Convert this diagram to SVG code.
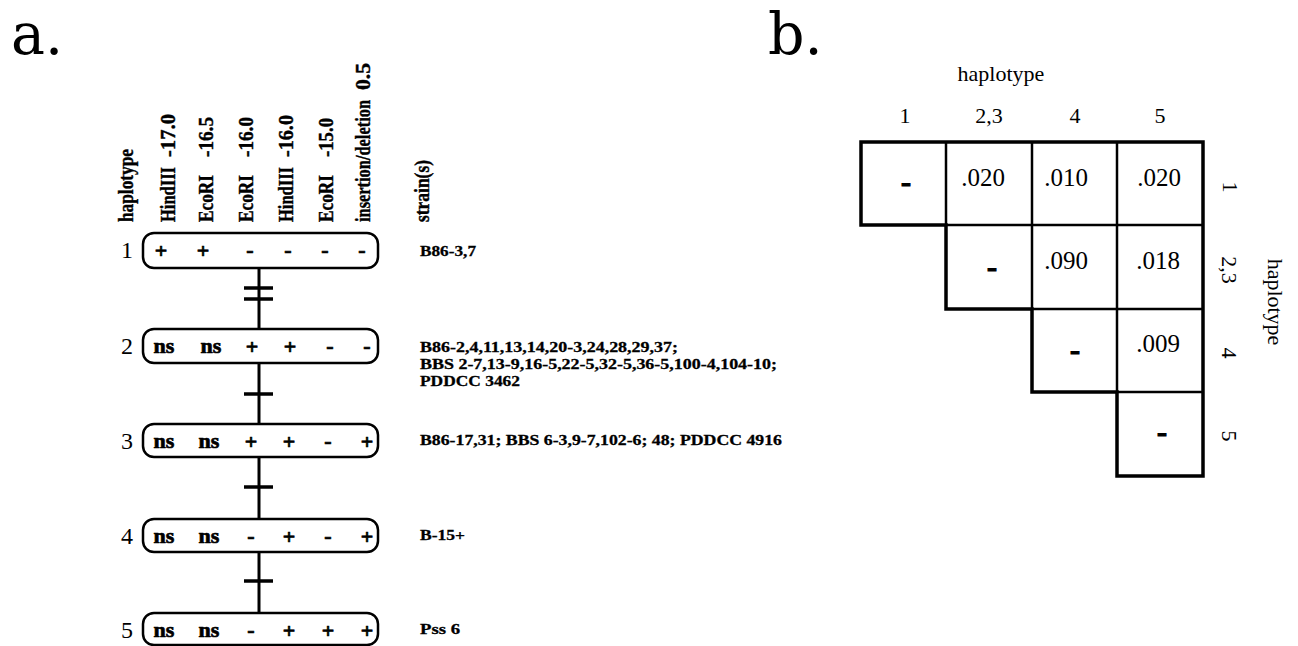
<svg xmlns="http://www.w3.org/2000/svg" width="1298" height="646" viewBox="0 0 1298 646">
<style>
  .panel { font-family: "DejaVu Serif", "Liberation Serif", serif; font-size: 57px; fill: #000; }
  .hdr { font-family: "Liberation Serif", serif; font-weight: bold; font-size: 20px; fill: #000; stroke: #000; stroke-width: 0.4; }
  .rowlab { font-family: "Liberation Serif", serif; font-size: 24px; fill: #000; }
  .cell { font-family: "Liberation Serif", serif; font-weight: bold; font-size: 22px; fill: #000; stroke: #000; stroke-width: 0.7; text-anchor: middle; }
  .strain { font-family: "Liberation Serif", serif; font-weight: bold; font-size: 15.5px; fill: #000; stroke: #000; stroke-width: 0.3; }
  .box { fill: #fff; stroke: #000; stroke-width: 2.5; }
  .conn { stroke: #000; stroke-width: 3; fill: none; }
  .tick { stroke: #000; stroke-width: 3.5; fill: none; }
  .tb { font-family: "Liberation Serif", serif; font-size: 22px; fill: #000; text-anchor: middle; }
  .val { font-family: "Liberation Serif", serif; font-size: 25px; fill: #000; text-anchor: middle; }
  .dash { font-family: "Liberation Serif", serif; font-weight: bold; font-size: 30px; fill: #000; stroke: #000; stroke-width: 1.2; text-anchor: middle; }
  .outer { fill: #fff; stroke: #000; stroke-width: 3.5; stroke-linejoin: miter; }
  .inner { stroke: #000; stroke-width: 2.5; fill: none; }
</style>
<rect width="1298" height="646" fill="#fff"/>

<text class="panel" x="11" y="54">a.</text>
<text class="panel" x="768" y="54">b.</text>

<g id="col-headers">
  <text class="hdr" transform="translate(133,222) rotate(-90)" textLength="73" lengthAdjust="spacingAndGlyphs">haplotype</text>
  <text class="hdr" transform="translate(175,222) rotate(-90)" textLength="55" lengthAdjust="spacingAndGlyphs">HindIII</text>
  <text class="hdr" transform="translate(175,157) rotate(-90)" textLength="43" lengthAdjust="spacingAndGlyphs">-17.0</text>
  <text class="hdr" transform="translate(213,222) rotate(-90)" textLength="47" lengthAdjust="spacingAndGlyphs">EcoRI</text>
  <text class="hdr" transform="translate(213,157) rotate(-90)" textLength="40" lengthAdjust="spacingAndGlyphs">-16.5</text>
  <text class="hdr" transform="translate(253,222) rotate(-90)" textLength="47" lengthAdjust="spacingAndGlyphs">EcoRI</text>
  <text class="hdr" transform="translate(253,157) rotate(-90)" textLength="40" lengthAdjust="spacingAndGlyphs">-16.0</text>
  <text class="hdr" transform="translate(293,222) rotate(-90)" textLength="55" lengthAdjust="spacingAndGlyphs">HindIII</text>
  <text class="hdr" transform="translate(293,157) rotate(-90)" textLength="42" lengthAdjust="spacingAndGlyphs">-16.0</text>
  <text class="hdr" transform="translate(333,222) rotate(-90)" textLength="47" lengthAdjust="spacingAndGlyphs">EcoRI</text>
  <text class="hdr" transform="translate(333,157) rotate(-90)" textLength="39" lengthAdjust="spacingAndGlyphs">-15.0</text>
  <text class="hdr" transform="translate(370,222) rotate(-90)" textLength="122" lengthAdjust="spacingAndGlyphs">insertion/deletion</text>
  <text class="hdr" transform="translate(370,90) rotate(-90)" textLength="27" lengthAdjust="spacingAndGlyphs">0.5</text>
  <text class="hdr" transform="translate(429,222) rotate(-90)" textLength="62" lengthAdjust="spacingAndGlyphs">strain(s)</text>
</g>

<g id="connectors">
  <line class="conn" x1="259" y1="268" x2="259" y2="329"/>
  <line class="tick" x1="244" y1="288" x2="273" y2="288"/>
  <line class="tick" x1="244" y1="299" x2="273" y2="299"/>
  <line class="conn" x1="259" y1="363" x2="259" y2="424"/>
  <line class="tick" x1="244" y1="394" x2="273" y2="394"/>
  <line class="conn" x1="259" y1="457" x2="259" y2="519"/>
  <line class="tick" x1="244" y1="487" x2="273" y2="487"/>
  <line class="conn" x1="259" y1="552" x2="259" y2="613"/>
  <line class="tick" x1="244" y1="581" x2="273" y2="581"/>
</g>

<g id="hap1">
  <rect class="box" x="143" y="233" width="235" height="35" rx="11"/>
  <text class="rowlab" x="133" y="258" text-anchor="end">1</text>
  <text class="cell" x="161" y="258">+</text>
  <text class="cell" x="203" y="258">+</text>
  <text class="cell" x="250" y="257">-</text>
  <text class="cell" x="288" y="257">-</text>
  <text class="cell" x="325" y="257">-</text>
  <text class="cell" x="362" y="257">-</text>
  <text class="strain" x="420" y="256" textLength="56" lengthAdjust="spacingAndGlyphs">B86-3,7</text>
</g>

<g id="hap2">
  <rect class="box" x="143" y="329" width="235" height="34" rx="11"/>
  <text class="rowlab" x="133" y="354" text-anchor="end">2</text>
  <text class="cell" x="164" y="353">ns</text>
  <text class="cell" x="211" y="353">ns</text>
  <text class="cell" x="252" y="354">+</text>
  <text class="cell" x="290" y="354">+</text>
  <text class="cell" x="330" y="353">-</text>
  <text class="cell" x="367" y="353">-</text>
  <text class="strain" x="420" y="352" textLength="258" lengthAdjust="spacingAndGlyphs">B86-2,4,11,13,14,20-3,24,28,29,37;</text>
  <text class="strain" x="420" y="369" textLength="357" lengthAdjust="spacingAndGlyphs">BBS 2-7,13-9,16-5,22-5,32-5,36-5,100-4,104-10;</text>
  <text class="strain" x="420" y="386" textLength="100" lengthAdjust="spacingAndGlyphs">PDDCC 3462</text>
</g>

<g id="hap3">
  <rect class="box" x="143" y="424" width="235" height="33" rx="11"/>
  <text class="rowlab" x="133" y="449" text-anchor="end">3</text>
  <text class="cell" x="164" y="448">ns</text>
  <text class="cell" x="209" y="448">ns</text>
  <text class="cell" x="251" y="449">+</text>
  <text class="cell" x="289" y="449">+</text>
  <text class="cell" x="328" y="448">-</text>
  <text class="cell" x="367" y="449">+</text>
  <text class="strain" x="420" y="445" textLength="362" lengthAdjust="spacingAndGlyphs">B86-17,31; BBS 6-3,9-7,102-6; 48; PDDCC 4916</text>
</g>

<g id="hap4">
  <rect class="box" x="143" y="519" width="235" height="33" rx="11"/>
  <text class="rowlab" x="133" y="544" text-anchor="end">4</text>
  <text class="cell" x="164" y="543">ns</text>
  <text class="cell" x="209" y="543">ns</text>
  <text class="cell" x="251" y="543">-</text>
  <text class="cell" x="289" y="544">+</text>
  <text class="cell" x="328" y="543">-</text>
  <text class="cell" x="367" y="544">+</text>
  <text class="strain" x="420" y="540" textLength="45" lengthAdjust="spacingAndGlyphs">B-15+</text>
</g>

<g id="hap5">
  <rect class="box" x="143" y="613" width="235" height="32" rx="11"/>
  <text class="rowlab" x="133" y="638" text-anchor="end">5</text>
  <text class="cell" x="164" y="637">ns</text>
  <text class="cell" x="209" y="637">ns</text>
  <text class="cell" x="251" y="637">-</text>
  <text class="cell" x="289" y="638">+</text>
  <text class="cell" x="328" y="638">+</text>
  <text class="cell" x="367" y="638">+</text>
  <text class="strain" x="420" y="634" textLength="40" lengthAdjust="spacingAndGlyphs">Pss 6</text>
</g>

<g id="table-b">
  <text class="tb" x="1001" y="81" font-size="20">haplotype</text>
  <text class="tb" x="905" y="123">1</text>
  <text class="tb" x="989" y="123">2,3</text>
  <text class="tb" x="1075" y="123">4</text>
  <text class="tb" x="1160" y="123">5</text>

  <path class="outer" d="M861,142 H1203 V476 H1117 V392 H1032 V309 H946 V225 H861 Z"/>
  <line class="inner" x1="946" y1="142" x2="946" y2="225"/>
  <line class="inner" x1="1032" y1="142" x2="1032" y2="309"/>
  <line class="inner" x1="1117" y1="142" x2="1117" y2="392"/>
  <line class="inner" x1="946" y1="225" x2="1203" y2="225"/>
  <line class="inner" x1="1032" y1="309" x2="1203" y2="309"/>
  <line class="inner" x1="1117" y1="392" x2="1203" y2="392"/>

  <text class="dash" x="906" y="192">-</text>
  <text class="val" x="983" y="186">.020</text>
  <text class="val" x="1066" y="186">.010</text>
  <text class="val" x="1159" y="186">.020</text>
  <text class="dash" x="992" y="277">-</text>
  <text class="val" x="1066" y="269">.090</text>
  <text class="val" x="1158" y="269">.018</text>
  <text class="dash" x="1075" y="360">-</text>
  <text class="val" x="1158" y="352">.009</text>
  <text class="dash" x="1162" y="442">-</text>

  <text class="tb" transform="translate(1223,187) rotate(90)">1</text>
  <text class="tb" transform="translate(1222,270) rotate(90)">2,3</text>
  <text class="tb" transform="translate(1222,353) rotate(90)">4</text>
  <text class="tb" transform="translate(1222,436) rotate(90)">5</text>
  <text class="tb" transform="translate(1268,302) rotate(90)" font-size="20">haplotype</text>
</g>
</svg>
